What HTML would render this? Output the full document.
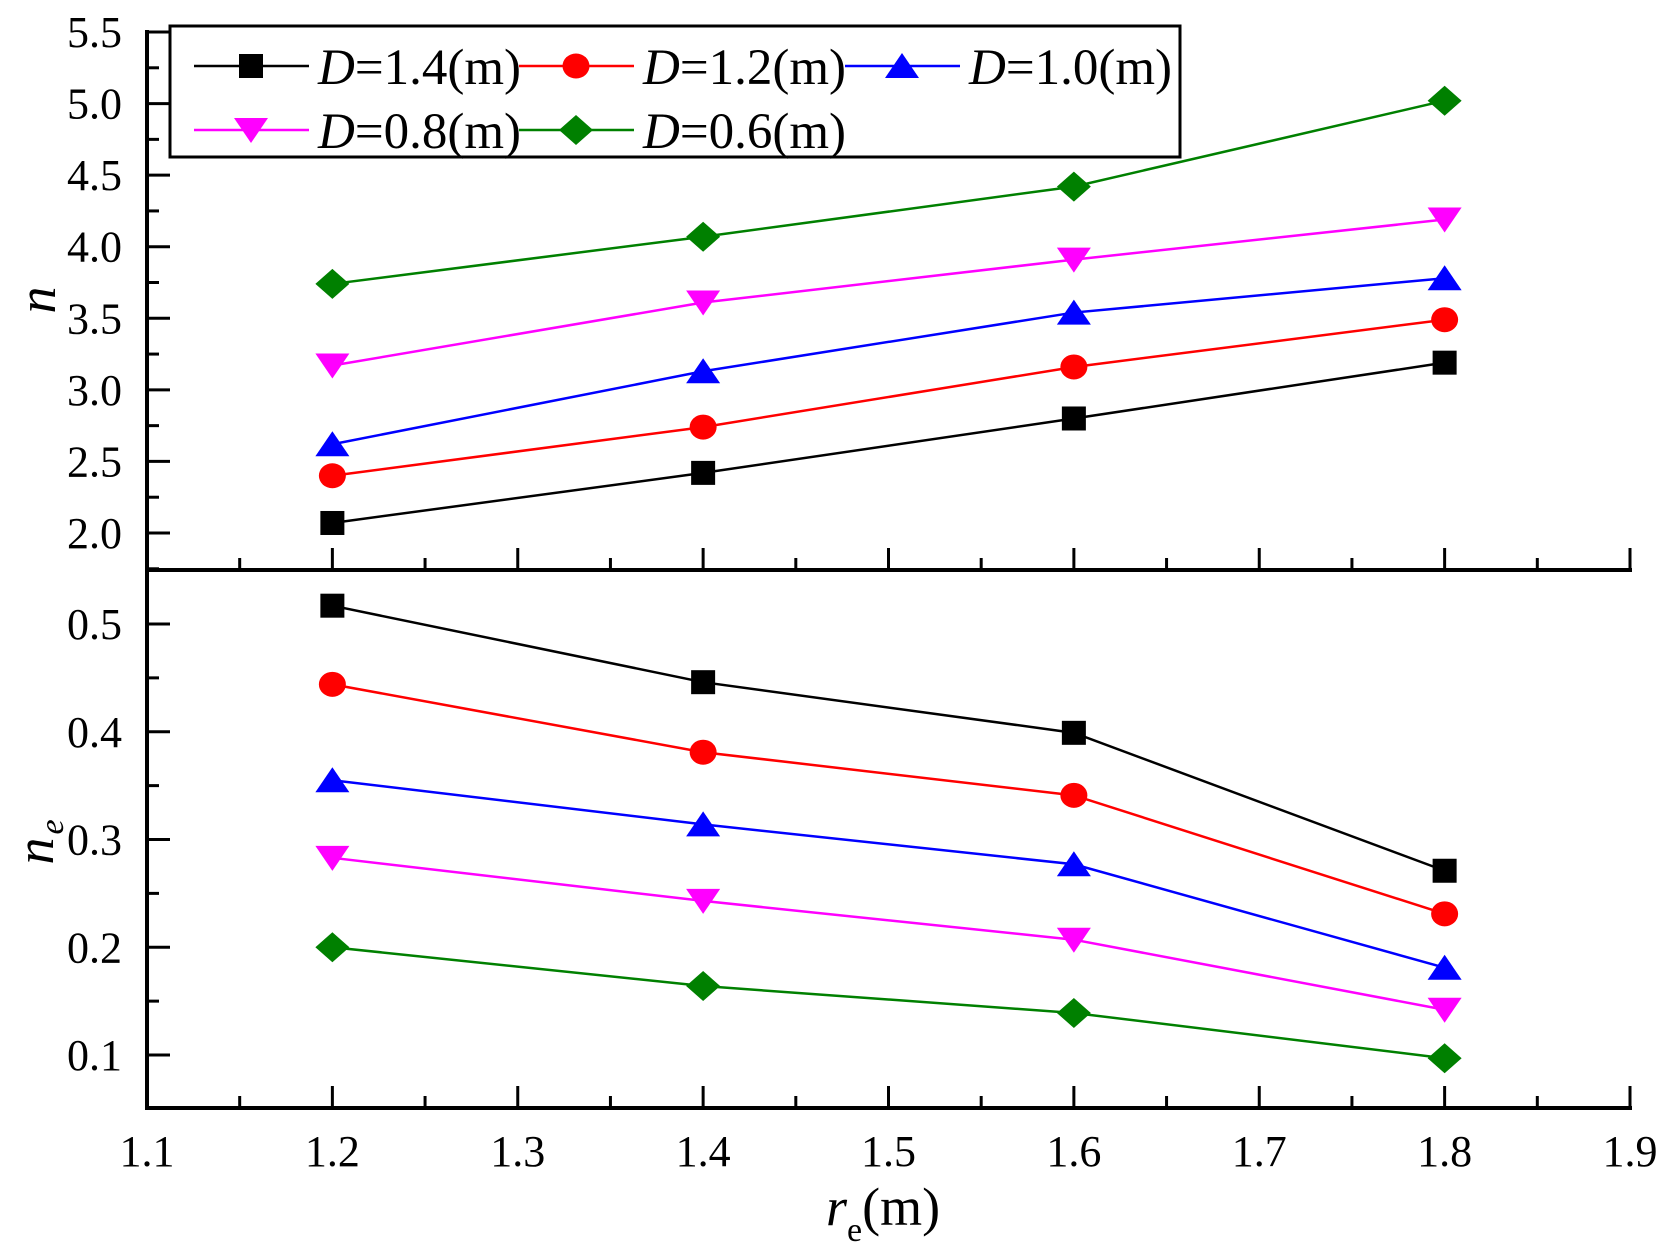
<!DOCTYPE html>
<html><head><meta charset="utf-8"><style>
html,body{margin:0;padding:0;background:#fff;}
svg{display:block;}
text{font-family:"Liberation Serif",serif;fill:#000;}
</style></head><body>
<svg width="1671" height="1259" viewBox="0 0 1671 1259" xmlns="http://www.w3.org/2000/svg">
<g id="g"></g>
<g id="txt">
<text transform="translate(55,300) rotate(-90)" font-size="54" font-style="italic" text-anchor="middle">n</text>
<text transform="translate(53,842) rotate(-90)" font-size="54" text-anchor="middle"><tspan font-style="italic">n</tspan><tspan font-style="italic" font-size="34" dx="3" dy="10">e</tspan></text>
<text x="826" y="1225" font-size="54"><tspan font-style="italic">r</tspan><tspan font-size="34" dy="16">e</tspan><tspan dy="-16">(m)</tspan></text>
<text x="318" y="84" font-size="51"><tspan font-style="italic">D</tspan>=1.4(m)</text>
<text x="643" y="84" font-size="51"><tspan font-style="italic">D</tspan>=1.2(m)</text>
<text x="969" y="84" font-size="51"><tspan font-style="italic">D</tspan>=1.0(m)</text>
<text x="318" y="148" font-size="51"><tspan font-style="italic">D</tspan>=0.8(m)</text>
<text x="643" y="148" font-size="51"><tspan font-style="italic">D</tspan>=0.6(m)</text>
</g>
<script>
(function(){
var NS="http://www.w3.org/2000/svg",g=document.getElementById('g');
function el(t,a,txt){var e=document.createElementNS(NS,t);for(var k in a)e.setAttribute(k,a[k]);if(txt!=null)e.textContent=txt;g.appendChild(e);return e;}
var X=function(v){return 147+(v-1.1)*1853.75;};
var YU=function(v){return 533-(v-2)*143.14;};
var YL=function(v){return 624-(v-0.5)*1077.5;};
el('line',{x1:147,y1:30,x2:147,y2:1110,stroke:'#000','stroke-width':4});
el('line',{x1:145,y1:570,x2:1632,y2:570,stroke:'#000','stroke-width':4});
el('line',{x1:145,y1:1108,x2:1632,y2:1108,stroke:'#000','stroke-width':4});
for(var i=0;i<=16;i++){var v=1.1+i*0.05,x=X(v),L=(i%2==0)?22:12;
 el('line',{x1:x,y1:570,x2:x,y2:570-L,stroke:'#000','stroke-width':3});
 el('line',{x1:x,y1:1108,x2:x,y2:1108-L,stroke:'#000','stroke-width':3});
 if(i%2==0) el('text',{x:x,y:1166,'font-size':44,'text-anchor':'middle'},v.toFixed(1));}
for(var i=0;i<=14;i++){var v=2+i*0.25,y=YU(v),L=(i%2==0)?23:12;
 el('line',{x1:147,y1:y,x2:147+L,y2:y,stroke:'#000','stroke-width':3});
 if(i%2==0) el('text',{x:122,y:y+15,'font-size':44,'text-anchor':'end'},v.toFixed(1));}
el('line',{x1:147,y1:YU(1.75),x2:159,y2:YU(1.75),stroke:'#000','stroke-width':3});
for(var i=0;i<=9;i++){var v=0.1+i*0.05,y=YL(v),L=(i%2==0)?23:12;
 el('line',{x1:147,y1:y,x2:147+L,y2:y,stroke:'#000','stroke-width':3});
 if(i%2==0) el('text',{x:122,y:y+15,'font-size':44,'text-anchor':'end'},v.toFixed(1));}
function mk(type,c,x,y){
 if(type=='s') el('rect',{x:x-12,y:y-12,width:24,height:24,fill:c});
 else if(type=='c') el('ellipse',{cx:x,cy:y,rx:13.5,ry:12.5,fill:c});
 else if(type=='u') el('polygon',{points:(x-17)+','+(y+12)+' '+(x+17)+','+(y+12)+' '+x+','+(y-13),fill:c});
 else if(type=='d') el('polygon',{points:(x-17)+','+(y-12)+' '+(x+17)+','+(y-12)+' '+x+','+(y+13),fill:c});
 else if(type=='D') el('polygon',{points:(x-17)+','+y+' '+x+','+(y-15)+' '+(x+17)+','+y+' '+x+','+(y+15),fill:c});
}
var xs=[1.2,1.4,1.6,1.8];
var S=[
 ['s','#000',[2.07,2.42,2.80,3.19],[0.517,0.446,0.399,0.271]],
 ['c','#ff0000',[2.40,2.74,3.16,3.49],[0.444,0.381,0.341,0.231]],
 ['u','#0000ff',[2.62,3.13,3.54,3.78],[0.355,0.314,0.277,0.181]],
 ['d','#ff00ff',[3.17,3.61,3.91,4.19],[0.283,0.243,0.207,0.142]],
 ['D','#008000',[3.74,4.07,4.42,5.02],[0.200,0.164,0.139,0.097]]];
S.forEach(function(s){
 var p1=xs.map(function(x,i){return X(x)+','+YU(s[2][i]);}).join(' ');
 var p2=xs.map(function(x,i){return X(x)+','+YL(s[3][i]);}).join(' ');
 el('polyline',{points:p1,fill:'none',stroke:s[1],'stroke-width':2.5});
 el('polyline',{points:p2,fill:'none',stroke:s[1],'stroke-width':2.5});
 xs.forEach(function(x,i){mk(s[0],s[1],X(x),YU(s[2][i]));mk(s[0],s[1],X(x),YL(s[3][i]));});
});
el('rect',{x:170,y:26,width:1010,height:131,fill:'#fff',stroke:'#000','stroke-width':3});
var L=[[194,66,0],[519,66,1],[845,66,2],[194,130,3],[519,130,4]];
L.forEach(function(l){var s=S[l[2]];
 el('line',{x1:l[0],y1:l[1],x2:l[0]+115,y2:l[1],stroke:s[1],'stroke-width':2.5});
 mk(s[0],s[1],l[0]+57,l[1]);
});
var txt=document.getElementById('txt');txt.parentNode.appendChild(txt);
})();
</script>
</svg>
</body></html>
